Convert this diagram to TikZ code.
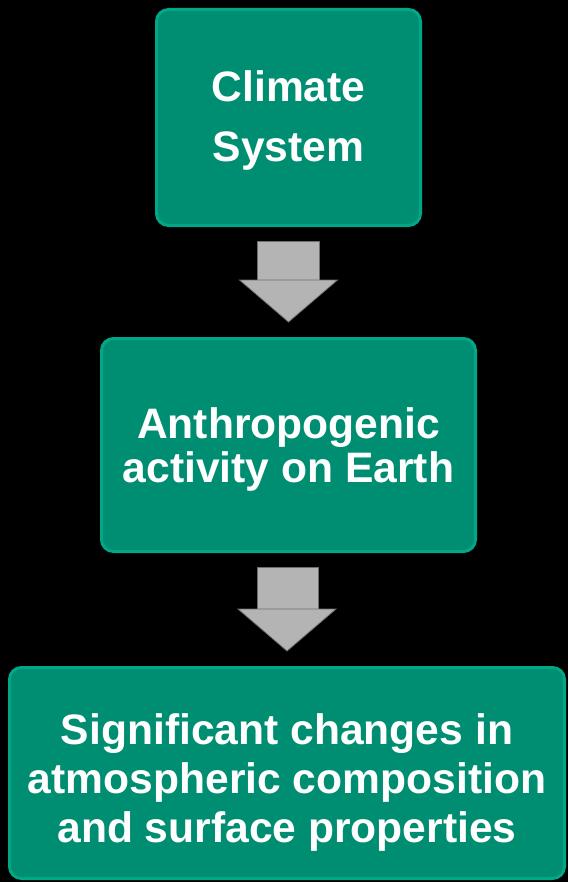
\documentclass[tikz,border=0pt]{standalone}
\usepackage{fontspec}
\setmainfont{Liberation Sans}
\usetikzlibrary{positioning,calc}
\definecolor{boxgreen}{RGB}{0,142,114}
\definecolor{boxrim}{RGB}{0,168,136}
\definecolor{arrowfill}{RGB}{180,180,180}
\definecolor{arrowline}{RGB}{110,110,110}

\begin{document}
\begin{tikzpicture}[x=0.5pt, y=-0.5pt,
    box/.style={draw=boxrim, fill=boxgreen, line width=1.5pt, rounded corners=6pt,
        text=white, align=center, font=\fontsize{21.3pt}{22pt}\selectfont\bfseries},
    blockarrow/.style={draw=arrowline, fill=arrowfill, line width=0.4pt}]
    \fill[black] (0,0) rectangle (568,882);
    \node[box, minimum width=132pt, minimum height=108pt] (clim) at (288.5,117.5)
        {\rule{0pt}{18.5pt}Climate\\[8pt]System};
    \node[box, minimum width=187pt, minimum height=106.5pt, below=55pt of clim] (anthro)
        {\rule{0pt}{19.5pt}Anthropogenic\\activity on Earth};
    \node[box, minimum width=277.5pt, minimum height=105.5pt, below=56.5pt of anthro, xshift=-0.75pt] (changes)
        {\rule{0pt}{24.5pt}Significant changes in\\[2.5pt]atmospheric composition\\[2.5pt]and surface properties};
    % block arrows between the boxes
    \foreach \src/\dst in {clim/anthro, anthro/changes}{
        \draw[blockarrow] ($(\src.south)+(-15.5pt,-7pt)$) rectangle ($(\dst.north)+(15.5pt,28.5pt)$);
        \draw[blockarrow] ($(\dst.north)+(-24.5pt,28.5pt)$) -- ($(\dst.north)+(24.5pt,28.5pt)$)
            -- ($(\dst.north)+(0pt,7.5pt)$) -- cycle;
    }
\end{tikzpicture}
\end{document}
